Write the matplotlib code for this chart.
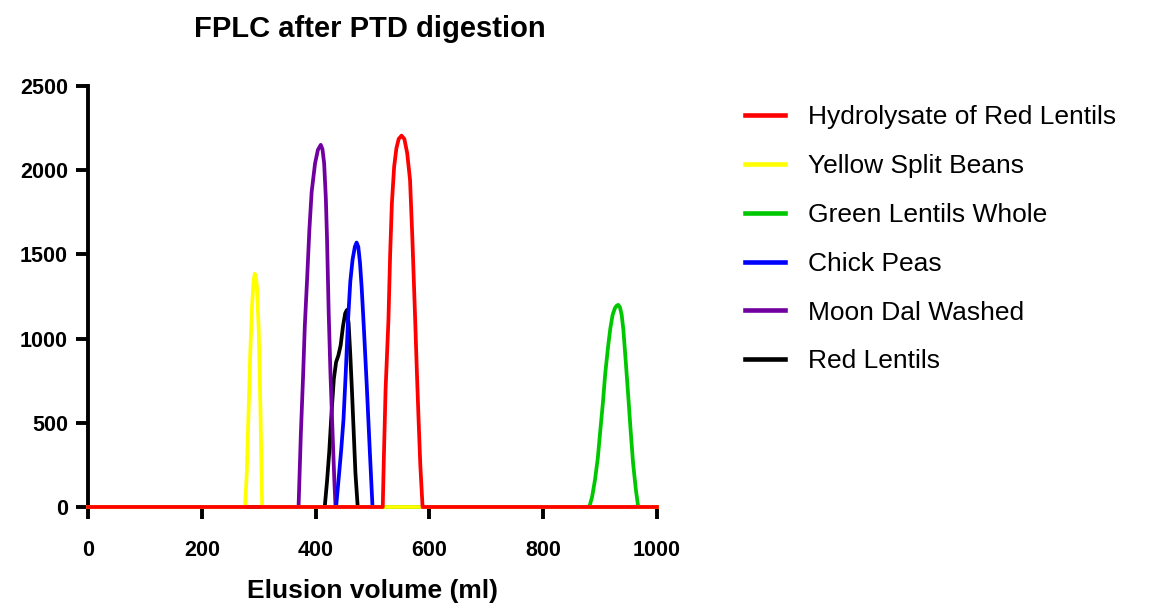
import matplotlib
matplotlib.use('Agg')
import matplotlib.pyplot as plt

matplotlib.rcParams['font.family'] = 'Liberation Sans'

# elution profiles (ml, absorbance units)
red_lentil_hydrolysate_x = [0, 518, 520, 523, 528, 531, 534, 538, 542, 546, 551, 556, 561, 566, 570, 575, 578, 581, 584, 588, 1000]
red_lentil_hydrolysate_y = [0, 0, 300, 700, 1110, 1500, 1800, 2020, 2130, 2185, 2205, 2185, 2100, 1940, 1600, 1110, 800, 516, 250, 0, 0]

yellow_split_x = [0, 276, 279, 282, 285, 288, 291, 293, 295, 297, 300, 303, 306, 1000]
yellow_split_y = [0, 0, 200, 550, 900, 1180, 1340, 1385, 1370, 1300, 1050, 580, 0, 0]

green_whole_x = [0, 881, 886, 891, 896, 900, 905, 909, 914, 918, 922, 926, 929, 932, 935, 938, 941, 945, 950, 954, 958, 963, 967, 1000]
green_whole_y = [0, 0, 60, 160, 290, 440, 620, 790, 950, 1060, 1140, 1180, 1195, 1200, 1185, 1140, 1050, 870, 635, 440, 260, 100, 0, 0]

chick_peas_x = [0, 436, 440, 445, 449, 453, 457, 461, 465, 469, 472, 475, 478, 481, 485, 490, 495, 500, 1000]
chick_peas_y = [0, 0, 150, 340, 520, 800, 1110, 1340, 1470, 1545, 1570, 1545, 1450, 1300, 1050, 714, 350, 0, 0]

moon_dal_x = [0, 370, 374, 378, 381, 385, 389, 393, 399, 404, 409, 412, 415, 418, 420, 423, 426, 430, 433, 435, 1000]
moon_dal_y = [0, 0, 430, 780, 1075, 1350, 1645, 1870, 2040, 2120, 2150, 2125, 2040, 1830, 1600, 1150, 800, 420, 150, 0, 0]

red_lentils_x = [0, 416, 420, 424, 428, 432, 436, 440, 444, 448, 452, 455, 458, 461, 464, 467, 470, 474, 1000]
red_lentils_y = [0, 0, 150, 330, 560, 760, 860, 900, 960, 1070, 1150, 1170, 1090, 900, 680, 440, 200, 0, 0]

labels = ['Hydrolysate of Red Lentils', 'Yellow Split Beans', 'Green Lentils Whole',
          'Chick Peas', 'Moon Dal Washed', 'Red Lentils']
colors = ['#FF0000', '#FFFF00', '#00C800', '#0000FF', '#7000A0', '#000000']
xs = [red_lentil_hydrolysate_x, yellow_split_x, green_whole_x, chick_peas_x, moon_dal_x, red_lentils_x]
ys = [red_lentil_hydrolysate_y, yellow_split_y, green_whole_y, chick_peas_y, moon_dal_y, red_lentils_y]

x_ticks = [0, 200, 400, 600, 800, 1000]
y_ticks = [0, 500, 1000, 1500, 2000, 2500]

fig = plt.figure(figsize=(11.74, 6.05), dpi=100)
ax = fig.add_axes([0.075, 0.162, 0.4846, 0.696])

# first series ends up on top
handles = {}
for i in reversed(range(len(labels))):
    line, = ax.plot(xs[i], ys[i], color=colors[i], lw=2.7, clip_on=False,
                    solid_joinstyle='round', zorder=3 + len(labels) - i)
    handles[i] = line

ax.set_xlim(0, 1000)
ax.set_ylim(0, 2500)
ax.set_xticks(x_ticks)
ax.set_yticks(y_ticks)
ax.set_xticklabels([str(v) for v in x_ticks], fontsize=15.5, fontweight='bold')
ax.set_yticklabels([str(v) for v in y_ticks], fontsize=15.5, fontweight='bold')

for s in ['top', 'right']:
    ax.spines[s].set_visible(False)
for s in ['left', 'bottom']:
    ax.spines[s].set_linewidth(2.8)
ax.tick_params(axis='both', direction='out', length=8.5, width=2.8)
ax.tick_params(axis='y', pad=6)
ax.tick_params(axis='x', pad=15)

fig.text(0.3173, 1 - 598 / 605, 'Elusion volume (ml)', fontsize=19, fontweight='bold',
         ha='center', va='baseline')
fig.text(0.315, 1 - 37 / 605, 'FPLC after PTD digestion', fontsize=21, fontweight='bold',
         ha='center', va='baseline')

leg = fig.legend([handles[i] for i in range(len(labels))], labels,
                 loc='upper left', bbox_to_anchor=(0.614, 0.865), frameon=False,
                 fontsize=19, handlelength=1.55, handletextpad=0.85, labelspacing=0.94)
for l in leg.get_lines():
    l.set_linewidth(3.3)

fig.savefig('out.png', dpi=100)
